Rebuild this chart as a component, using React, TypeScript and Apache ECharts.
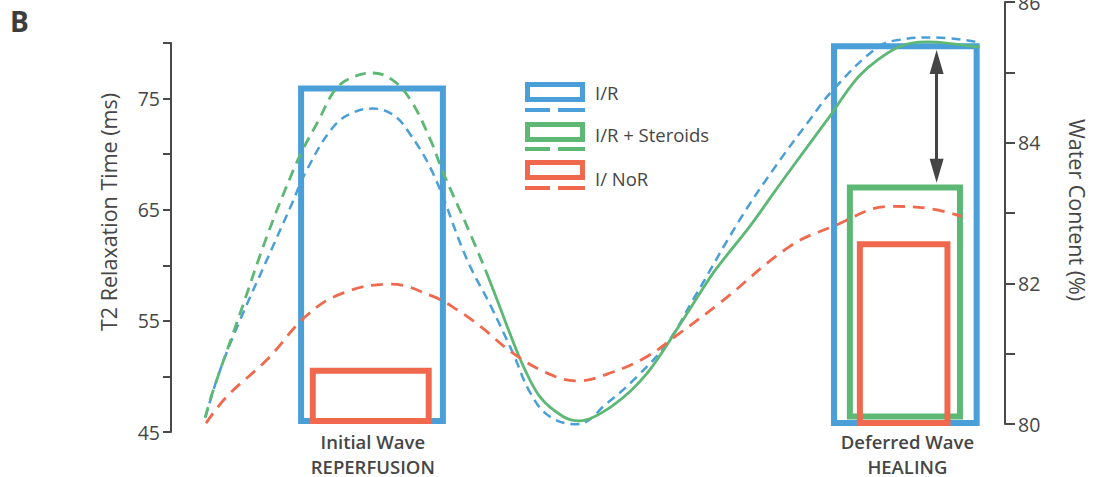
import React, { useEffect, useRef } from "react";
import * as echarts from "echarts";

// ---- data (schematic time axis 0..100, left axis T2 ms) ----
const irX = [4.1, 5.9, 8.3, 11.5, 14.3, 16.3, 19.4, 21.7, 24.2, 26.5, 28.3, 31.4, 35.5, 38.3, 41.0, 43.1, 45.4, 48.7, 52.3, 55.9, 59.5, 62.6, 68.2, 72.2, 76.6, 79.4, 84.7, 87.4, 91.4, 96.6];
const irY = [46.3, 50.6, 55.1, 60.5, 65.2, 68.6, 72.4, 73.7, 74.1, 73.6, 72.2, 68.3, 60.5, 56.4, 52.1, 48.5, 46.4, 45.7, 47.6, 50.0, 53.0, 56.9, 64.1, 68.6, 73.1, 75.8, 79.6, 80.3, 80.5, 80.1];

const steroidDashX = [4.1, 5.0, 8.3, 11.5, 14.3, 15.8, 17.6, 19.7, 21.7, 24.2, 26.5, 28.7, 31.1, 32.6, 35.5, 37.7];
const steroidDashY = [46.3, 48.6, 55.7, 62.6, 67.9, 70.4, 72.9, 75.8, 76.9, 77.3, 76.7, 74.9, 71.3, 68.4, 63.5, 59.6];
const steroidSolidX = [37.7, 39.1, 41.9, 44.2, 47.0, 49.0, 53.0, 57.1, 61.4, 65.0, 69.4, 73.4, 78.7, 82.6, 87.1, 90.7, 97.0];
const steroidSolidY = [59.6, 56.9, 51.5, 48.2, 46.4, 46.0, 47.4, 50.3, 55.1, 59.3, 63.5, 67.7, 73.1, 77.1, 79.6, 80.1, 79.6];

const noReflowX = [4.2, 6.7, 11.5, 16.3, 20.6, 26.3, 31.4, 34.3, 37.1, 41.0, 45.1, 48.7, 53.0, 57.1, 61.0, 65.8, 74.2, 79.4, 86.2, 91.0, 94.8];
const noReflowY = [45.8, 48.2, 51.5, 55.5, 57.5, 58.3, 57.2, 56.0, 54.5, 52.1, 50.3, 49.6, 50.4, 51.8, 53.9, 56.6, 61.7, 63.5, 65.3, 65.1, 64.4];

// boxes: wave windows
const boxLeft = [15.6, 17.0, 79.5, 81.4, 82.6];
const boxRight = [32.6, 30.9, 96.6, 94.6, 93.1];
const boxBottom = [46.0, 46.0, 45.8, 46.4, 45.8];
const boxTop = [75.9, 50.5, 79.7, 67.0, 61.9];
const boxGroup = [0, 2, 0, 1, 2];

// difference arrow
const arrowX = 91.8;
const arrowFrom = 78.3;
const arrowTo = 68.5;

const phaseX = [24.2, 88.3];
const phaseTitle = ["Initial Wave", "Deferred Wave"];
const phaseSub = ["REPERFUSION", "HEALING"];

const legendNames = ["I/R", "I/R + Steroids", "I/ NoR"];
const leftTickLabels = [45, 55, 65, 75];
const rightTickLabels = [80, 82, 84, 86];

const COLORS = ["#4A9FD9", "#5CB874", "#F0694F"];
const AX = "#4a4a4a";
const TXT = "#464646";
const FONT = "'Open Sans', 'Noto Sans', sans-serif";

const zip = (xs: number[], ys: number[]) => xs.map((x, i) => [x, ys[i]]);

export default function App() {
  const ref = useRef<HTMLDivElement>(null);
  useEffect(() => {
    if (!ref.current) return;
    const chart = echarts.init(ref.current, undefined, { renderer: "svg" });

    const legendGraphics: any[] = [];
    const legTop = [84.5, 124.5, 162.5];
    const dashY = [110, 149, 188];
    const textY = [92, 134, 178];
    legendNames.forEach((name, i) => {
      const c = COLORS[i];
      legendGraphics.push({
        type: "rect",
        shape: { x: 527.5, y: legTop[i], width: 55, height: 15 },
        style: { fill: "none", stroke: c, lineWidth: 5 },
      });
      legendGraphics.push({
        type: "line",
        shape: { x1: 525, y1: dashY[i], x2: 550, y2: dashY[i] },
        style: { stroke: c, lineWidth: 4 },
      });
      legendGraphics.push({
        type: "line",
        shape: { x1: 558, y1: dashY[i], x2: 585, y2: dashY[i] },
        style: { stroke: c, lineWidth: 4 },
      });
      legendGraphics.push({
        type: "text",
        x: 595,
        y: textY[i],
        style: {
          text: name,
          fill: TXT,
          font: `18.5px ${FONT}`,
          textVerticalAlign: "middle",
          textAlign: "left",
        },
      });
    });

    const boxData = boxLeft.map((l, i) => [l, boxRight[i], boxBottom[i], boxTop[i], boxGroup[i]]);

    const option: any = {
      animation: false,
      backgroundColor: "#ffffff",
      grid: [
        { left: 171, right: 93, top: 43, bottom: 45, outerBoundsMode: "none", containLabel: false },
        { left: 171, right: 93, top: 2, bottom: 53, outerBoundsMode: "none", containLabel: false },
      ],
      xAxis: [
        { type: "value", gridIndex: 0, min: 0, max: 100, show: false },
        { type: "value", gridIndex: 1, min: 0, max: 100, show: false },
      ],
      yAxis: [
        {
          type: "value",
          gridIndex: 0,
          position: "left",
          min: 45,
          max: 80,
          interval: 5,
          axisLine: { show: true, onZero: false, lineStyle: { color: AX, width: 2 } },
          axisTick: { show: true, length: 8, lineStyle: { color: AX, width: 2 } },
          axisLabel: {
            margin: 11,
            color: TXT,
            fontSize: 19.5,
            fontFamily: FONT,
            formatter: (v: number) => (leftTickLabels.includes(v) ? String(v) : ""),
          },
          splitLine: { show: false },
        },
        {
          type: "value",
          gridIndex: 1,
          position: "right",
          min: 80,
          max: 86,
          interval: 1,
          axisLine: { show: true, onZero: false, lineStyle: { color: AX, width: 2 } },
          axisTick: { show: true, length: 10, lineStyle: { color: AX, width: 2 } },
          axisLabel: {
            margin: 13,
            color: TXT,
            fontSize: 19.5,
            fontFamily: FONT,
            formatter: (v: number) => (rightTickLabels.includes(v) ? String(v) : ""),
          },
          splitLine: { show: false },
        },
      ],
      graphic: [
        {
          type: "text",
          left: 10,
          top: 7,
          style: { text: "B", fill: "#3d3d3d", font: `bold 28px ${FONT}` },
        },
        {
          type: "text",
          x: 108,
          y: 212,
          rotation: Math.PI / 2,
          style: {
            text: "T2 Relaxation Time (ms)",
            fill: TXT,
            font: `21.5px ${FONT}`,
            textAlign: "center",
            textVerticalAlign: "middle",
          },
        },
        {
          type: "text",
          x: 1077,
          y: 210,
          rotation: -Math.PI / 2,
          style: {
            text: "Water Content (%)",
            fill: TXT,
            font: `21.5px ${FONT}`,
            textAlign: "center",
            textVerticalAlign: "middle",
          },
        },
        ...legendGraphics,
      ],
      series: [
        {
          type: "custom",
          name: "boxes",
          xAxisIndex: 0,
          yAxisIndex: 0,
          z: 1,
          silent: true,
          data: boxData,
          renderItem: (params: any, api: any) => {
            const p0 = api.coord([api.value(0), api.value(3)]);
            const p1 = api.coord([api.value(1), api.value(2)]);
            const g = api.value(4);
            return {
              type: "rect",
              shape: { x: p0[0], y: p0[1], width: p1[0] - p0[0], height: p1[1] - p0[1] },
              style: { fill: "none", stroke: COLORS[g], lineWidth: 6 },
            };
          },
        },
        {
          type: "line",
          name: "I/R",
          xAxisIndex: 0,
          yAxisIndex: 0,
          data: zip(irX, irY),
          smooth: 0.4,
          symbol: "none",
          clip: false,
          z: 3,
          lineStyle: { color: COLORS[0], width: 2.5, type: [9, 6] },
        },
        {
          type: "line",
          name: "I/R + Steroids",
          xAxisIndex: 0,
          yAxisIndex: 0,
          data: zip(steroidDashX, steroidDashY),
          smooth: 0.4,
          symbol: "none",
          clip: false,
          z: 3,
          lineStyle: { color: COLORS[1], width: 2.8, type: [11, 7] },
        },
        {
          type: "line",
          name: "I/R + Steroids",
          xAxisIndex: 0,
          yAxisIndex: 0,
          data: zip(steroidSolidX, steroidSolidY),
          smooth: 0.3,
          symbol: "none",
          clip: false,
          z: 3,
          lineStyle: { color: COLORS[1], width: 2.8, type: "solid" },
        },
        {
          type: "line",
          name: "I/ NoR",
          xAxisIndex: 0,
          yAxisIndex: 0,
          data: zip(noReflowX, noReflowY),
          smooth: 0.4,
          symbol: "none",
          clip: false,
          z: 3,
          lineStyle: { color: COLORS[2], width: 2.8, type: [12, 8] },
          markLine: {
            silent: true,
            symbol: ["triangle", "triangle"],
            symbolSize: [14, 24],
            label: { show: false },
            lineStyle: { color: "#444", width: 3, type: "solid" },
            itemStyle: { color: "#444" },
            data: [[{ coord: [arrowX, arrowFrom] }, { coord: [arrowX, arrowTo] }]],
          },
        },
        {
          type: "custom",
          name: "phases",
          xAxisIndex: 0,
          yAxisIndex: 0,
          silent: true,
          data: phaseX.map((x, i) => [x, 45, i]),
          renderItem: (params: any, api: any) => {
            const p = api.coord([api.value(0), api.value(1)]);
            const i = api.value(2);
            const mk = (text: string, dy: number) => ({
              type: "text",
              x: p[0],
              y: p[1] + dy,
              style: {
                text,
                fill: TXT,
                font: `600 18.5px ${FONT}`,
                textAlign: "center",
                textVerticalAlign: "middle",
              },
            });
            return {
              type: "group",
              children: [mk(phaseTitle[i], 9), mk(phaseSub[i], 34)],
            };
          },
        },
      ],
    };
    chart.setOption(option);
    return () => chart.dispose();
  }, []);
  return (
    <div
      ref={ref}
      style={{ position: "fixed", left: 0, top: 0, width: 1098, height: 477, background: "#fff" }}
    />
  );
}
